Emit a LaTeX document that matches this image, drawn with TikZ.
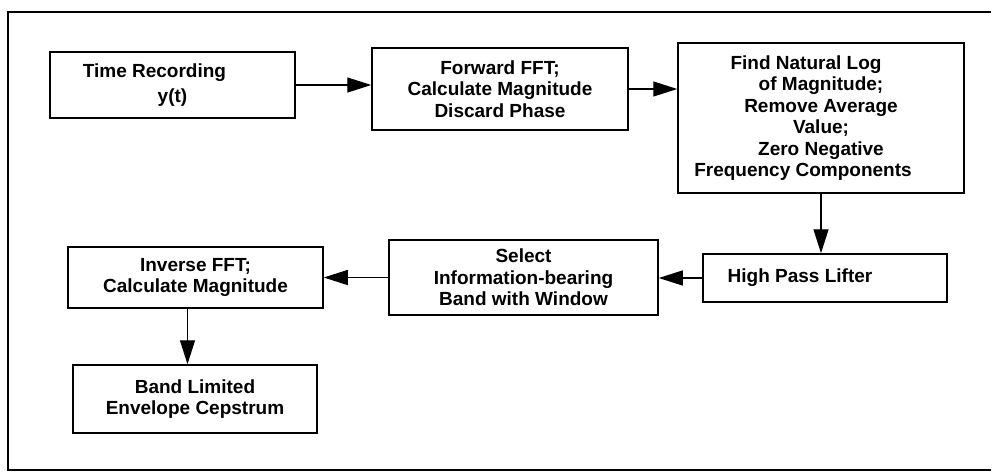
\documentclass[tikz,border=0pt]{standalone}
\usepackage{fontspec}
\setmainfont{Liberation Sans}
\usetikzlibrary{arrows.meta}

\begin{document}
\begin{tikzpicture}[x=1pt, y=-1pt,
        box/.style={draw, line width=1.5pt, align=center, inner sep=0pt,
            font=\fontsize{19}{21.5}\selectfont\bfseries},
        flow/.style={line width=1.3pt, -{Triangle[length=24pt, width=15pt]}}]
        \useasboundingbox (0,0) rectangle (992,472);
        % Outer frame
        \draw[line width=1.8pt] (991,12) -- (8,12) -- (8,470) -- (991,470);

        % Top row
        \node[box, minimum width=245pt, minimum height=66pt] (rec) at (172.5,85) {Time Recording\hspace*{36pt}\\[4pt]y(t)};
        \node[box, minimum width=256pt, minimum height=82pt] (fft) at (500,89) {Forward FFT;\\Calculate Magnitude\\Discard Phase};
        \node[box, minimum width=286pt, minimum height=150pt] (log) at (821,118) {Find Natural Log\hspace*{30pt}\\of Magnitude;\\Remove Average\\Value;\\Zero Negative\\Frequency Components\hspace*{36pt}};

        % Middle row
        \node[box, minimum width=244pt, minimum height=48pt] (lifter) at (825,278) {High Pass Lifter\hspace*{50pt}};
        \node[box, minimum width=269pt, minimum height=75pt] (band) at (523.5,277.5) {Select\\Information-bearing\\Band with Window};
        \node[box, minimum width=255pt, minimum height=61pt] (ifft) at (195.5,277.5) {Inverse FFT;\\Calculate Magnitude};

        % Result
        \node[box, minimum width=244pt, minimum height=68pt] (ceps) at (195,399) {Band Limited\\Envelope Cepstrum};

        % Arrows
        \draw[flow] (rec.east) -- (rec.east -| fft.west);
        \draw[flow] (fft.east) -- (fft.east -| log.west);
        \draw[flow] (log.south) -- (log.south |- lifter.north);
        \draw[flow] (lifter.west) -- (lifter.west -| band.east);
        \draw[flow] (band.west) -- (band.west -| ifft.east);
        \draw[flow] ([xshift=-8pt]ifft.south) -- ([xshift=-8pt]ifft.south |- ceps.north);
    \end{tikzpicture}
\end{document}
